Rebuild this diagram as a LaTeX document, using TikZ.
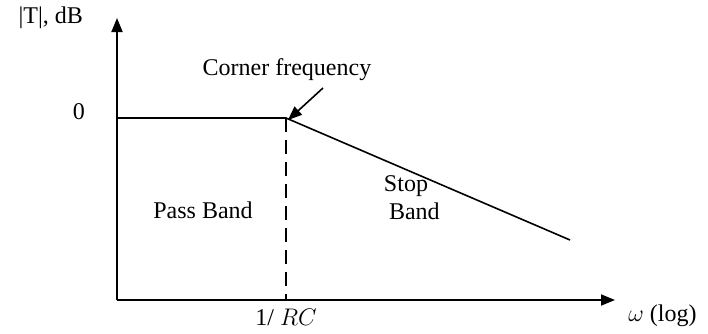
\documentclass[tikz,border=0pt]{standalone}
\usepackage{fontspec}
\setmainfont{Liberation Serif}
\usetikzlibrary{positioning,arrows.meta}

\begin{document}
\begin{tikzpicture}[
  x=0.5pt, y=-0.5pt,
  >={Triangle[length=7pt,width=5.5pt]},
  every node/.style={font=\fontsize{12}{14}\selectfont},
  axis/.style={line width=0.9pt},
  curve/.style={line width=0.8pt}
]
\useasboundingbox (0,0) rectangle (708,333);
% axes
\coordinate (O) at (117,300);
\coordinate (ytop) at (117,18);
\coordinate (xend) at (615,300);
\draw[axis,->] (O) -- (ytop);
\draw[axis,->] (O) -- (xend);
\node[anchor=east] (ylab) at (90,18) {|T|, dB};
\node[anchor=south west, inner sep=0pt] (wlab) at (628,327) {$\omega$ (log)};
% response
\coordinate (zero) at (117,118);
\coordinate (corner) at (286,118);
\coordinate (foot) at (286,300);
\coordinate (roll) at (570,240);
\node[anchor=east] (zlab) at (92,112) {0};
\draw[curve] (zero) -- (corner) -- (roll);
\draw[curve, dashed, dash pattern=on 7pt off 4pt] (corner) -- (foot);
\node[below=1pt of foot] (rc) {1/ $RC$};
% labels
\node (cf) at (287,70) {Corner frequency};
\coordinate (cftail) at (323,88);
\draw[curve,->] (cftail) -- ([xshift=1pt,yshift=-1pt]corner);
\node (pass) at (203,210) {Pass Band};
\node[align=center] (stop) at (406,198) {Stop\\\hspace*{0.7em}Band};
\end{tikzpicture}
\end{document}
